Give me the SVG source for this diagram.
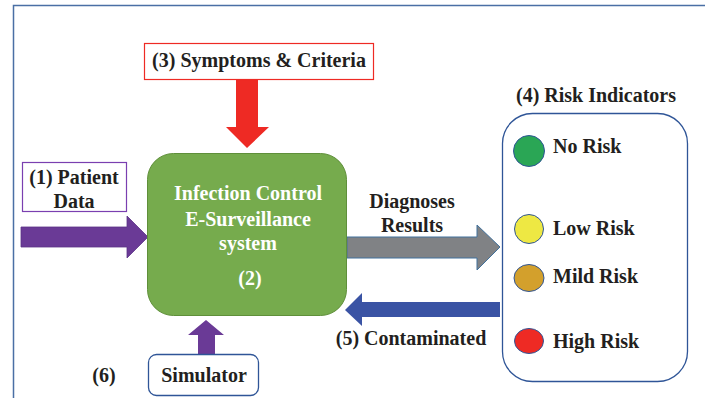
<svg xmlns="http://www.w3.org/2000/svg" width="705" height="398" viewBox="0 0 705 398">
  <style>
    .t { font-family: 'Liberation Serif', 'DejaVu Serif', serif; font-weight: 700; font-size: 20px; fill: #231f20; }
    .w { fill: #ffffff; }
    .mid { text-anchor: middle; }
    .frame { fill: none; stroke: #4a6fa5; stroke-width: 1.5; }
    .blueBox { fill: #ffffff; stroke: #2f5597; stroke-width: 1.3; }
  </style>

  <!-- outer frame -->
  <path class="frame" d="M13.5,398 V5.5 H705"/>

  <!-- connectors -->
  <g id="connectors">
    <!-- symptoms down into system -->
    <polygon points="236,80 258,80 258,127 269,127 247,148 226,127 236,127" fill="#ee2a24"/>
    <!-- patient data into system -->
    <polygon points="21,227 127,227 127,216 148,237 127,258 127,247 21,247" fill="#6a3a96" stroke="#5b3287" stroke-width="0.8"/>
    <!-- simulator up into system -->
    <polygon points="198,354 198,335 188,335 206,320 224,335 215,335 215,354" fill="#6a3a96"/>
    <!-- diagnoses results to indicators -->
    <polygon points="347,237 477,237 477,225 500,247 477,270 477,258 347,258" fill="#808285" stroke="#41719c" stroke-width="1"/>
    <!-- contaminated back to system -->
    <polygon points="500,302 362,302 362,293 345,310 362,326 362,317 500,317" fill="#3a53a4"/>
  </g>

  <!-- (3) symptoms & criteria -->
  <g id="symptoms">
    <rect x="144.5" y="43.5" width="229" height="36" fill="#ffffff" stroke="#ee2a24" stroke-width="1.2"/>
    <text class="t mid" x="259" y="67">(3) Symptoms &amp; Criteria</text>
  </g>

  <!-- (1) patient data -->
  <g id="patient-data">
    <rect x="22.5" y="162.5" width="104" height="49" fill="#ffffff" stroke="#7a3fb0" stroke-width="1.2"/>
    <text class="t mid" x="74" y="184">(1) Patient</text>
    <text class="t mid" x="74" y="208">Data</text>
  </g>

  <!-- (2) surveillance system -->
  <g id="system">
    <rect x="147.5" y="153.5" width="199" height="162" rx="26" fill="#76ab4d" stroke="#5f8f3a" stroke-width="1"/>
    <text class="t w mid" x="248" y="200">Infection Control</text>
    <text class="t w mid" x="248" y="226">E-Surveillance</text>
    <text class="t w mid" x="248" y="250">system</text>
    <text class="t w mid" x="250" y="285">(2)</text>
  </g>

  <!-- (6) simulator -->
  <g id="simulator">
    <rect x="148.5" y="354.5" width="110" height="41" rx="8" class="blueBox"/>
    <text class="t mid" x="204" y="382">Simulator</text>
    <text class="t mid" x="104" y="382">(6)</text>
  </g>

  <!-- arrow labels -->
  <g id="labels">
    <text class="t mid" x="412" y="208">Diagnoses</text>
    <text class="t mid" x="412" y="232">Results</text>
    <text class="t mid" x="411" y="345">(5) Contaminated</text>
  </g>

  <!-- (4) risk indicators -->
  <g id="risk-indicators">
    <text class="t mid" x="596" y="102">(4) Risk Indicators</text>
    <rect x="502.5" y="113.5" width="185" height="268" rx="30" class="blueBox"/>
    <circle cx="529" cy="151" r="15.5" fill="#2aa655" stroke="#2f5597" stroke-width="1"/>
    <text class="t" x="553" y="153">No Risk</text>
    <circle cx="529" cy="229" r="14.5" fill="#eee843" stroke="#2f5597" stroke-width="1"/>
    <text class="t" x="553" y="235">Low Risk</text>
    <ellipse cx="529" cy="278" rx="15" ry="13.5" fill="#d3a02c" stroke="#2f5597" stroke-width="1"/>
    <text class="t" x="553" y="283">Mild Risk</text>
    <ellipse cx="529" cy="341" rx="14.5" ry="12.5" fill="#ee2a24" stroke="#2f5597" stroke-width="1"/>
    <text class="t" x="553" y="348">High Risk</text>
  </g>
</svg>
